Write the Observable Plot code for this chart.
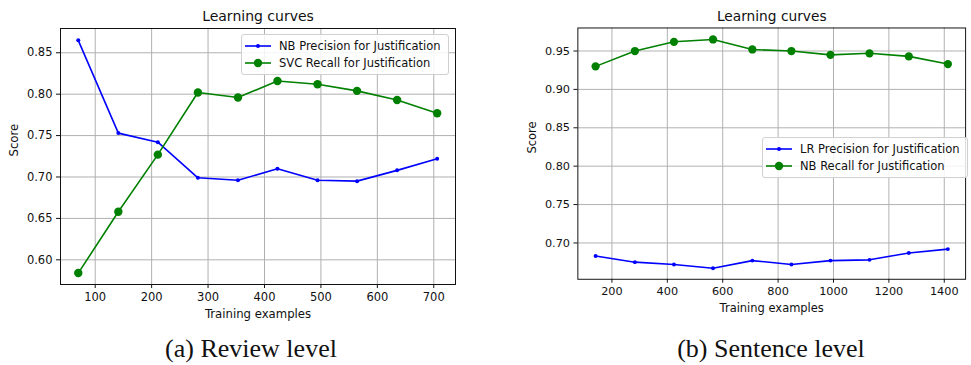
<!DOCTYPE html>
<html>
<head>
<meta charset="utf-8">
<script src="https://cdn.jsdelivr.net/npm/d3@7"></script>
<script src="https://cdn.jsdelivr.net/npm/@observablehq/plot@0.6"></script>
<style>
  html, body { margin: 0; padding: 0; background: #fff; overflow: hidden; }
  #wrap { position: relative; width: 971px; height: 365px; overflow: hidden; font-family: "DejaVu Sans", sans-serif; }
  .panel { position: absolute; top: 0; }
  .legend { position: absolute; border: 1px solid #d0d0d0; border-radius: 3px; background: rgba(255,255,255,0.85);
            font: 11.5px "DejaVu Sans", sans-serif; color: #111; padding: 2px 4px 2px 3px; box-sizing: border-box; }
  .legend .row { display: flex; align-items: center; height: 17.5px; white-space: nowrap; }
  .legend svg { margin-right: 8px; }
  .caption { position: absolute; top: 334px; font: 26px "Liberation Serif", "DejaVu Serif", serif; color: #111; transform: translateX(-50%); white-space: nowrap; line-height: 30px; }
</style>
</head>
<body>
<div id="wrap"></div>
<script>
// ---- data ----
const reviewSizes = [70, 141, 211, 282, 353, 423, 494, 564, 635, 706];
const reviewNBPrecision = [0.865, 0.753, 0.742, 0.699, 0.696, 0.710, 0.696, 0.695, 0.708, 0.722];
const reviewSVCRecall = [0.584, 0.658, 0.727, 0.802, 0.796, 0.816, 0.812, 0.804, 0.793, 0.777];

const sentenceSizes = [141, 283, 424, 565, 707, 848, 989, 1130, 1272, 1413];
const sentenceLRPrecision = [0.683, 0.675, 0.672, 0.667, 0.677, 0.672, 0.677, 0.678, 0.687, 0.692];
const sentenceNBRecall = [0.930, 0.950, 0.962, 0.965, 0.952, 0.950, 0.945, 0.947, 0.943, 0.933];

const reviewXTicks = [100, 200, 300, 400, 500, 600, 700];
const reviewYTicks = [0.60, 0.65, 0.70, 0.75, 0.80, 0.85];
const sentenceXTicks = [200, 400, 600, 800, 1000, 1200, 1400];
const sentenceYTicks = [0.70, 0.75, 0.80, 0.85, 0.90, 0.95];

const chartTitle = "Learning curves";
const xLabel = "Training examples";
const yLabel = "Score";

const BLUE = "#0000ff", GREEN = "#008000";
const FS = 11.5;
const wrap = document.getElementById("wrap");

function makePanel(opts) {
  const {left, width, marginLeft, marginRight, xs, s1, s2, xDomain, yDomain, xTicks, yTicks,
         name1, name2, legendPos, caption, captionX} = opts;
  const idx = xs.map((d, i) => i);
  const plot = Plot.plot({
    width, height: 330,
    marginLeft, marginRight, marginTop: 28, marginBottom: 46,
    style: {fontFamily: "DejaVu Sans, sans-serif", fontSize: FS + "px", color: "#111", background: "white", overflow: "visible"},
    x: {domain: xDomain, label: null},
    y: {domain: yDomain, label: null},
    marks: [
      Plot.gridX(xTicks, {stroke: "#b0b0b0", strokeOpacity: 1, strokeWidth: 1}),
      Plot.gridY(yTicks, {stroke: "#b0b0b0", strokeOpacity: 1, strokeWidth: 1}),
      Plot.axisX({ticks: xTicks, tickSize: 4, tickPadding: 4, stroke: "#111", fill: "#111", fontSize: FS, label: null, tickFormat: d => String(d)}),
      Plot.axisY({ticks: yTicks, tickSize: 4, tickPadding: 4, stroke: "#111", fill: "#111", fontSize: FS, label: null, tickFormat: d => d.toFixed(2)}),
      Plot.line(idx, {x: i => xs[i], y: i => s1[i], stroke: BLUE, strokeWidth: 1.6}),
      Plot.dot(idx, {x: i => xs[i], y: i => s1[i], fill: BLUE, r: 2}),
      Plot.line(idx, {x: i => xs[i], y: i => s2[i], stroke: GREEN, strokeWidth: 1.6}),
      Plot.dot(idx, {x: i => xs[i], y: i => s2[i], fill: GREEN, r: 4.2}),
      Plot.frame({stroke: "#111", strokeWidth: 1}),
      Plot.text([chartTitle], {frameAnchor: "top", lineAnchor: "middle", dy: -12, fontSize: 14, fill: "#111"}),
      Plot.text([xLabel], {frameAnchor: "bottom", lineAnchor: "middle", dy: 30, fontSize: 11.7, fill: "#111"}),
      Plot.text([yLabel], {frameAnchor: "left", dx: -46, rotate: -90, fontSize: 11.7, fill: "#111"})
    ]
  });
  const div = document.createElement("div");
  div.className = "panel";
  div.style.left = left + "px";
  div.appendChild(plot);
  wrap.appendChild(div);

  // legend
  const lg = document.createElement("div");
  lg.className = "legend";
  lg.style.left = legendPos.x + "px";
  lg.style.top = legendPos.y + "px";
  lg.style.width = legendPos.w + "px";
  const entries = [[name1, BLUE, 2], [name2, GREEN, 4.2]];
  for (const [name, color, r] of entries) {
    const row = document.createElement("div");
    row.className = "row";
    row.innerHTML = `<svg width="26" height="12"><line x1="0" y1="6" x2="26" y2="6" stroke="${color}" stroke-width="1.6"/><circle cx="13" cy="6" r="${r}" fill="${color}"/></svg><span>${name}</span>`;
    lg.appendChild(row);
  }
  wrap.appendChild(lg);

  const cap = document.createElement("div");
  cap.className = "caption";
  cap.style.left = captionX + "px";
  cap.textContent = caption;
  wrap.appendChild(cap);
}

makePanel({
  left: 0, width: 485, marginLeft: 60, marginRight: 30,
  xs: reviewSizes, s1: reviewNBPrecision, s2: reviewSVCRecall,
  xDomain: [38.5, 738.5], yDomain: [0.5702, 0.8793],
  xTicks: reviewXTicks, yTicks: reviewYTicks,
  name1: "NB Precision for Justification", name2: "SVC Recall for Justification",
  legendPos: {x: 241, y: 34, w: 208},
  caption: "(a) Review level", captionX: 251
});

makePanel({
  left: 490, width: 490, marginLeft: 89, marginRight: 6,
  xs: sentenceSizes, s1: sentenceLRPrecision, s2: sentenceNBRecall,
  xDomain: [77, 1477], yDomain: [0.6527, 0.980],
  xTicks: sentenceXTicks, yTicks: sentenceYTicks,
  name1: "LR Precision for Justification", name2: "NB Recall for Justification",
  legendPos: {x: 762, y: 137, w: 206},
  caption: "(b) Sentence level", captionX: 771
});
</script>
</body>
</html>
